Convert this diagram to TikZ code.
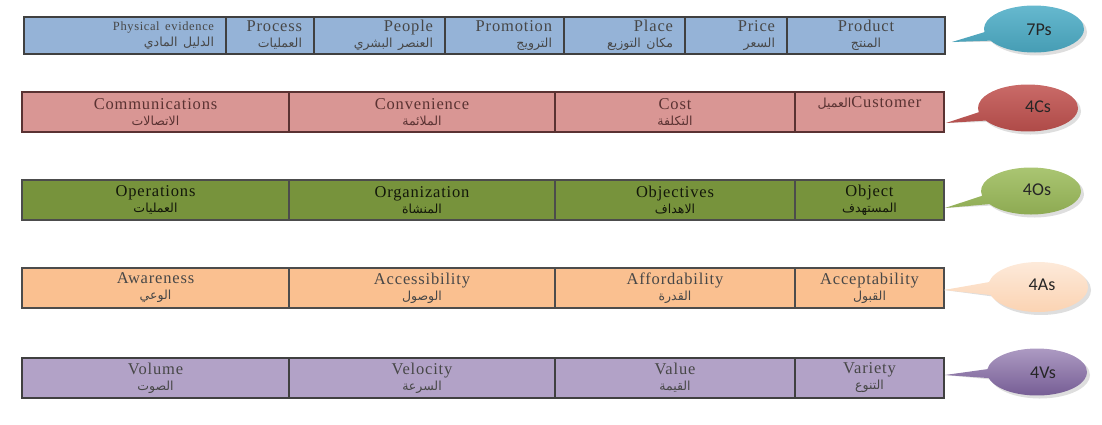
\documentclass[tikz,border=0pt]{standalone}
\usepackage{fontspec}
\setmainfont{Liberation Serif}[LetterSpace=5]
\newfontfamily\arabicfont[Script=Arabic]{DejaVu Sans}
\newfontfamily\tagfont{Carlito}
\TeXXeTstate=1
\usetikzlibrary{shapes.callouts}

\newcommand{\arabtext}[1]{{\arabicfont\fontsize{12.5}{12.5}\selectfont\beginR #1\endR}}

% row fills
\definecolor{pBlue}{HTML}{95B3D7}
\definecolor{cRose}{HTML}{D99694}
\definecolor{cEdge}{HTML}{5A3232}
\definecolor{oOlive}{HTML}{77933C}
\definecolor{aPeach}{HTML}{FAC090}
\definecolor{vLilac}{HTML}{B2A2C7}
% tag fills
\definecolor{tagTeal}{HTML}{4BACC6}
\definecolor{tagRed}{HTML}{C0504D}
\definecolor{tagGreen}{HTML}{9BBB59}
\definecolor{tagPeach}{HTML}{FBD4B4}
\definecolor{tagPurple}{HTML}{8064A2}

\tikzset{
    cell/.style={anchor=north west, line width=1.1pt, inner sep=0pt, outer sep=0pt,
        align=center, font=\fontsize{16.5}{16}\selectfont},
    pcell/.style={cell, fill=pBlue, draw=black!75, text=black!72, inner xsep=12pt,
        minimum height=37pt, align=right},
    ccell/.style={cell, fill=cRose, draw=cEdge, text=cEdge, minimum height=40pt},
    ocell/.style={cell, fill=oOlive, draw=black!70, text=black!60!oOlive!40!black,
        minimum height=40pt},
    acell/.style={cell, fill=aPeach, draw=black!70, text=black!72, minimum height=40pt},
    vcell/.style={cell, fill=vLilac, draw=black!75, text=black!72, minimum height=40pt},
    tag/.style={ellipse callout, draw=none, inner sep=0pt, minimum width=100pt,
        minimum height=47pt, callout pointer arc=22},
    tagrim/.style={tag, fill=black!13},
    tagtext/.style={font=\tagfont\fontsize{18}{18}\selectfont, text=black!85}
}

\begin{document}
\begin{tikzpicture}[x=1pt, y=-1pt]
    \useasboundingbox (0,0) rectangle (1102,424);

    % 7Ps
    \node[pcell, text width=178pt] (pEvidence) at (24,17)
        {{\fontsize{12.5}{12}\selectfont Physical evidence}\\ \arabtext{الدليل المادي}};
    \node[pcell, text width=64pt] (pProcess) at (pEvidence.north east)
        {Process\\ \arabtext{العمليات}};
    \node[pcell, text width=107pt] (pPeople) at (pProcess.north east)
        {People\\ \arabtext{العنصر البشري}};
    \node[pcell, text width=95pt] (pPromotion) at (pPeople.north east)
        {Promotion\\ \arabtext{الترويج}};
    \node[pcell, text width=97pt] (pPlace) at (pPromotion.north east)
        {Place\\ \arabtext{مكان التوزيع}};
    \node[pcell, text width=78pt] (pPrice) at (pPlace.north east)
        {Price\\ \arabtext{السعر}};
    \node[pcell, text width=134pt, align=center] (pProduct) at (pPrice.north east)
        {Product\\ \arabtext{المنتج}};

    % 4Cs
    \node[ccell, minimum width=267pt] (cComm) at (22,92)
        {Communications\\ \arabtext{الاتصالات}};
    \node[ccell, minimum width=266pt] (cConv) at (cComm.north east)
        {Convenience\\ \arabtext{الملائمة}};
    \node[ccell, minimum width=240pt] (cCost) at (cConv.north east)
        {Cost\\ \arabtext{التكلفة}};
    \node[ccell, minimum width=149pt] (cCustomer) at (cCost.north east)
        {\arabtext{العميل}Customer\\ \strut};

    % 4Os
    \node[ocell, minimum width=267pt] (oOper) at (22,180)
        {Operations\\ \arabtext{العمليات}};
    \node[ocell, minimum width=266pt] (oOrg) at (oOper.north east)
        {Organization\\ \arabtext{المنشاة}};
    \node[ocell, minimum width=240pt] (oObjectives) at (oOrg.north east)
        {Objectives\\ \arabtext{الاهداف}};
    \node[ocell, minimum width=149pt] (oObject) at (oObjectives.north east)
        {Object\\ \arabtext{المستهدف}};

    % 4As
    \node[acell, minimum width=267pt] (aAware) at (22,268)
        {Awareness\\ \arabtext{الوعي}};
    \node[acell, minimum width=266pt] (aAccess) at (aAware.north east)
        {Accessibility\\ \arabtext{الوصول}};
    \node[acell, minimum width=240pt] (aAfford) at (aAccess.north east)
        {Affordability\\ \arabtext{القدرة}};
    \node[acell, minimum width=149pt] (aAccept) at (aAfford.north east)
        {Acceptability\\ \arabtext{القبول}};

    % 4Vs
    \node[vcell, minimum width=267pt] (vVolume) at (22,358)
        {Volume\\ \arabtext{الصوت}};
    \node[vcell, minimum width=266pt] (vVelocity) at (vVolume.north east)
        {Velocity\\ \arabtext{السرعة}};
    \node[vcell, minimum width=240pt] (vValue) at (vVelocity.north east)
        {Value\\ \arabtext{القيمة}};
    \node[vcell, minimum width=149pt] (vVariety) at (vValue.north east)
        {Variety\\ \arabtext{التنوع}};

    % speech bubbles on the right, a grey rim behind each
    \coordinate (tip7P) at (952,42);
    \node[tagrim, callout absolute pointer={(tip7P)}] (rim7P) at (1037,32) {};
    \node[tag, top color=tagTeal!85!white, bottom color=tagTeal!90!black,
        callout absolute pointer={(tip7P)}] (tag7P) at (1034,29) {};
    \node[tagtext] (lbl7P) at (1039,30) {7Ps};

    \coordinate (tip4C) at (946,123);
    \node[tagrim, callout absolute pointer={(tip4C)}] (rim4C) at (1031,111) {};
    \node[tag, top color=tagRed!85!white, bottom color=tagRed!90!black,
        callout absolute pointer={(tip4C)}] (tag4C) at (1028,108) {};
    \node[tagtext] (lbl4C) at (1038,107) {4Cs};

    \coordinate (tip4O) at (945,208);
    \node[tagrim, callout absolute pointer={(tip4O)}] (rim4O) at (1034,194) {};
    \node[tag, top color=tagGreen!85!white, bottom color=tagGreen!90!black,
        callout absolute pointer={(tip4O)}] (tag4O) at (1031,191) {};
    \node[tagtext] (lbl4O) at (1037,190) {4Os};

    \coordinate (tip4A) at (944,290);
    \node[tagrim, minimum height=50pt, callout pointer arc=30,
        callout absolute pointer={(tip4A)}] (rim4A) at (1041,290) {};
    \node[tag, minimum height=50pt, callout pointer arc=30,
        top color=tagPeach!50!white, bottom color=tagPeach!90!aPeach,
        callout absolute pointer={(tip4A)}] (tag4A) at (1038,287) {};
    \node[tagtext] (lbl4A) at (1042,285) {4As};

    \coordinate (tip4V) at (945,375);
    \node[tagrim, callout absolute pointer={(tip4V)}] (rim4V) at (1040,375) {};
    \node[tag, top color=tagPurple!65!white, bottom color=tagPurple!90!black,
        callout absolute pointer={(tip4V)}] (tag4V) at (1037,372) {};
    \node[tagtext] (lbl4V) at (1043,373) {4Vs};
\end{tikzpicture}
\end{document}
